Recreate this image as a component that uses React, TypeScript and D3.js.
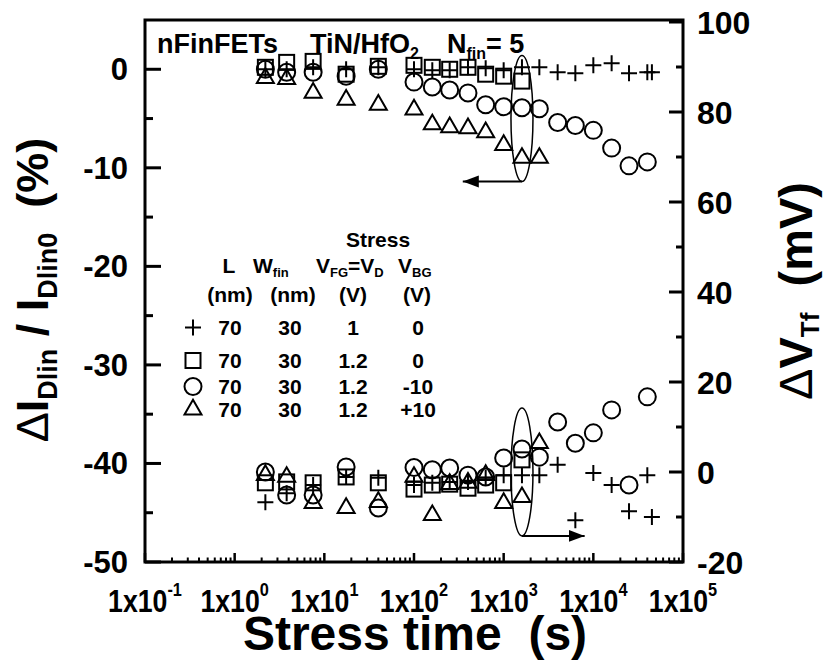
import React from 'react';
import * as d3 from 'd3';

// axis ticks
const decades = [-1, 0, 1, 2, 3, 4, 5];
const leftMajor = [-50, -40, -30, -20, -10, 0];
const leftMinor = [-45, -35, -25, -15, -5];
const rightMajor = [-20, 0, 20, 40, 60, 80, 100];
const rightMinor = [-10, 10, 30, 50, 70, 90];

// stress times (s)
const times = [2.2, 3.8, 7.5, 17.5, 40, 100, 160, 250, 400, 630, 1000, 1600, 2500, 4000, 6300, 10000, 16000, 25000, 40000, 45000];

// + : VFG=VD=1, VBG=0
const plusIdl = [0, 0, 0.2, 0, 0.2, 0, -0.1, -0.1, 0.2, 0.1, -0.1, 0.2, 0.2, -0.3, -0.4, 0.4, 0.6, -0.4, -0.3, -0.3];
const plusVt = [-6.7, -4.7, -2.9, -1.1, -1.3, -2.9, -2.4, -2.2, -2.2, -1.3, -0.7, -0.7, -0.7, 1.6, -10.7, -0.2, -2.9, -8.7, -0.7, -10];
// square : 1.2, 0
const sqIdl = [0.2, 0.7, 0.8, -0.5, 0.3, 0.4, 0.2, 0, 0.2, -0.5, -0.7, -1.2];
const sqVt = [-2.4, -2.2, -2.4, -1.1, -2.4, -3.8, -2.9, -2.7, -3.6, -2.9, -2.4, 2.7];
// circle : 1.2, -10
const ciIdl = [0, -0.3, -0.3, -0.7, 0, -1.3, -1.8, -2.1, -2.4, -3.6, -3.8, -3.9, -4.0, -5.4, -5.7, -6.2, -8.0, -9.8, -9.4];
const ciVt = [0, -5.1, -5.1, 1.1, -8.0, 1.0, 0.5, 0.9, -0.7, -1.1, 3.1, 5.1, 3.3, 11.1, 6.4, 8.7, 13.8, -2.9, 16.7];
// triangle : 1.2, +10
const trIdl = [-0.9, -1.0, -2.4, -3.1, -3.6, -4.1, -5.6, -5.9, -6.0, -6.4, -7.7, -9.0, -9.0];
const trVt = [-0.7, -1.1, -6.9, -8.0, -6.7, -1.1, -9.6, -2.7, -2.4, -0.7, -6.9, -5.6, 6.4];

// legend table
const legKinds = ['plus', 'square', 'circle', 'triangle'];
const legL = ['70', '70', '70', '70'];
const legW = ['30', '30', '30', '30'];
const legVfg = ['1', '1.2', '1.2', '1.2'];
const legVbg = ['0', '0', '-10', '+10'];

const W = 826, H = 672;
const L = 145, R = 683, T = 20, B = 562;
const FONT = '"Liberation Sans", Arial, sans-serif';

const x = d3.scaleLog().domain([0.1, 1e5]).range([L, R]);
const yL = d3.scaleLinear().domain([-50, 5]).range([B, T]);
const yR = d3.scaleLinear().domain([-20, 100]).range([B, 22]);

const triPath = d3.symbol(d3.symbolTriangle, 125)()!;

function Marker({ kind, cx, cy }: { kind: string; cx: number; cy: number }) {
  const st = { fill: 'none', stroke: '#000', strokeWidth: 2 };
  if (kind === 'plus') return <path d={`M${cx - 8},${cy}h16M${cx},${cy - 8}v16`} {...st} />;
  if (kind === 'square') return <rect x={cx - 7.5} y={cy - 7.5} width={15} height={15} {...st} />;
  if (kind === 'circle') return <circle cx={cx} cy={cy} r={8.5} {...st} />;
  return <path d={triPath} transform={`translate(${cx},${cy})`} {...st} />;
}

function Series({ kind, vals, scale }: { kind: string; vals: number[]; scale: d3.ScaleLinear<number, number> }) {
  return (
    <g>
      {vals.map((v, i) => <Marker key={i} kind={kind} cx={x(times[i])} cy={scale(v)} />)}
    </g>
  );
}

const pre = { whiteSpace: 'pre' } as React.CSSProperties;

export default function App() {
  const minorX: number[] = [];
  decades.slice(0, -1).forEach(d => { for (let k = 2; k < 10; k++) minorX.push(k * 10 ** d); });
  const topEllBottom = yL(-11.4);
  const botEllBottom = yR(-14.2);
  return (
    <svg width={W} height={H} style={{ position: 'absolute', left: 0, top: 0, background: '#fff' }}
      fontFamily={FONT} fontWeight="bold">
      <defs>
        <marker id="ah" markerUnits="userSpaceOnUse" markerWidth={18} markerHeight={14} refX={16} refY={6} orient="auto">
          <path d="M0,0L16,6L0,12z" fill="#000" />
        </marker>
      </defs>

      {/* frame */}
      <rect x={L} y={T} width={R - L} height={B - T} fill="none" stroke="#000" strokeWidth={3} />

      {/* bottom ticks */}
      {decades.map(d => <line key={d} x1={x(10 ** d)} x2={x(10 ** d)} y1={B} y2={B - 9} stroke="#000" strokeWidth={2.5} />)}
      {minorX.map((t, i) => <line key={i} x1={x(t)} x2={x(t)} y1={B} y2={B - 4.5} stroke="#000" strokeWidth={2} />)}
      {decades.map(d => (
        <text key={d} transform={`translate(${x(10 ** d)},612) scale(0.86,1)`} textAnchor="middle" fontSize={31}>
          1x10<tspan dy={-16} fontSize={19}>{d}</tspan>
        </text>
      ))}

      {/* left ticks */}
      {leftMajor.map(v => <line key={v} x1={L} x2={L + 16} y1={yL(v)} y2={yL(v)} stroke="#000" strokeWidth={3} />)}
      {leftMinor.map(v => <line key={v} x1={L} x2={L + 8} y1={yL(v)} y2={yL(v)} stroke="#000" strokeWidth={3} />)}
      {leftMajor.map(v => <text key={v} x={128} y={yL(v) + 11} textAnchor="end" fontSize={31}>{v}</text>)}

      {/* right ticks */}
      {rightMajor.map(v => <line key={v} x1={R} x2={R - 14} y1={yR(v)} y2={yR(v)} stroke="#000" strokeWidth={3} />)}
      {rightMinor.map(v => <line key={v} x1={R} x2={R - 7} y1={yR(v)} y2={yR(v)} stroke="#000" strokeWidth={3} />)}
      {rightMajor.map(v => <text key={v} x={697} y={yR(v) + 12} fontSize={32}>{v}</text>)}

      {/* axis titles */}
      <text x={415} y={650} textAnchor="middle" fontSize={48} style={pre}>Stress time  (s)</text>
      <text transform="translate(48,290) rotate(-90)" textAnchor="middle" fontSize={45} style={pre}>
        <tspan fontWeight="normal">Δ</tspan>I<tspan dy={9} fontSize={27}>Dlin</tspan>
        <tspan dy={-9}> / I</tspan><tspan dy={9} fontSize={27}>Dlin0</tspan>
        <tspan dy={-9}>  (%)</tspan>
      </text>
      <text transform="translate(812,291) rotate(-90)" textAnchor="middle" fontSize={47} style={pre}>
        <tspan fontWeight="normal">Δ</tspan>V<tspan dy={7} fontSize={26}>Tf</tspan>
        <tspan dy={-7}>  (mV)</tspan>
      </text>

      {/* annotation */}
      <text x={157} y={53} fontSize={27}>nFinFETs</text>
      <text x={310} y={53} fontSize={27}>TiN/HfO<tspan dy={6} fontSize={16}>2</tspan></text>
      <text x={447} y={53} fontSize={27}>N<tspan dy={6} fontSize={16}>fin</tspan><tspan dy={-6}>= 5</tspan></text>

      {/* legend table */}
      <g fontSize={21}>
        <text x={378} y={247} textAnchor="middle" fontSize={21}>Stress</text>
        <text x={229} y={273} textAnchor="middle">L</text>
        <text x={253} y={273}>W<tspan dy={4} fontSize={13}>fin</tspan></text>
        <text x={316} y={273}>V<tspan dy={4} fontSize={13}>FG</tspan><tspan dy={-4}>=V</tspan><tspan dy={4} fontSize={13}>D</tspan></text>
        <text x={398} y={273}>V<tspan dy={4} fontSize={13}>BG</tspan></text>
        <text x={230} y={302} textAnchor="middle">(nm)</text>
        <text x={293} y={302} textAnchor="middle">(nm)</text>
        <text x={353} y={302} textAnchor="middle">(V)</text>
        <text x={417} y={302} textAnchor="middle">(V)</text>
        {legKinds.map((k, i) => {
          const yb = [335, 368, 394, 417][i];
          return (
            <g key={k}>
              <Marker kind={k} cx={193} cy={yb - 7.5} />
              <text x={230} y={yb} textAnchor="middle">{legL[i]}</text>
              <text x={290} y={yb} textAnchor="middle">{legW[i]}</text>
              <text x={353} y={yb} textAnchor="middle">{legVfg[i]}</text>
              <text x={418} y={yb} textAnchor="middle">{legVbg[i]}</text>
            </g>
          );
        })}
      </g>

      {/* data: ΔIDlin (left axis) */}
      <Series kind="triangle" vals={trIdl} scale={yL} />
      <Series kind="circle" vals={ciIdl} scale={yL} />
      <Series kind="square" vals={sqIdl} scale={yL} />
      <Series kind="plus" vals={plusIdl} scale={yL} />
      {/* data: ΔVTf (right axis) */}
      <Series kind="triangle" vals={trVt} scale={yR} />
      <Series kind="circle" vals={ciVt} scale={yR} />
      <Series kind="square" vals={sqVt} scale={yR} />
      <Series kind="plus" vals={plusVt} scale={yR} />

      {/* ellipses and arrows */}
      <ellipse cx={x(1600)} cy={yL(-5)} rx={11} ry={topEllBottom - yL(-5)} fill="none" stroke="#000" strokeWidth={1.5} />
      <line x1={x(1600)} x2={x(350)} y1={topEllBottom} y2={topEllBottom} stroke="#000" strokeWidth={2} markerEnd="url(#ah)" />
      <ellipse cx={x(1600)} cy={yR(0)} rx={11} ry={botEllBottom - yR(0)} fill="none" stroke="#000" strokeWidth={1.5} />
      <line x1={x(1600)} x2={x(8000)} y1={botEllBottom} y2={botEllBottom} stroke="#000" strokeWidth={2} markerEnd="url(#ah)" />
    </svg>
  );
}
